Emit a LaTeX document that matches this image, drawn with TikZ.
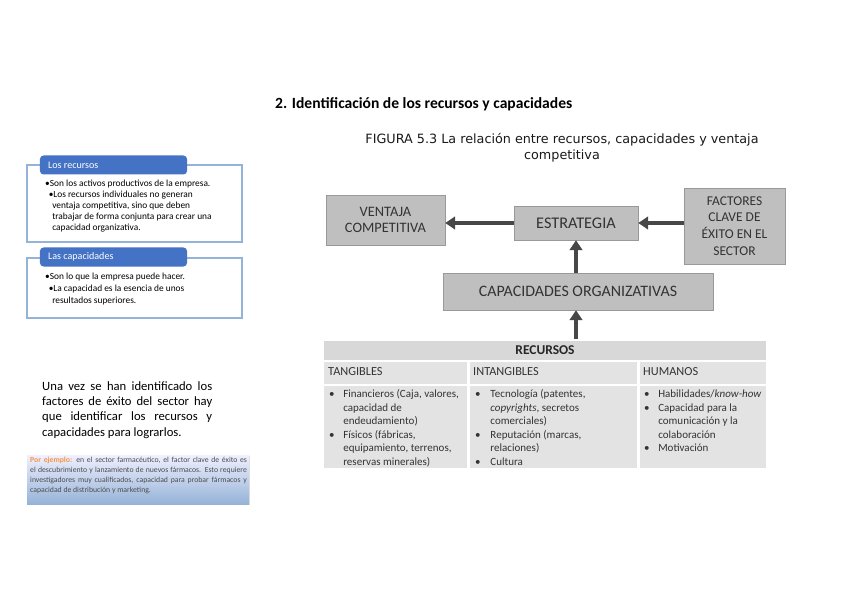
\documentclass[tikz,border=0pt]{standalone}
\usepackage{fontspec}
\setmainfont{Carlito}
\newfontfamily\figfont{DejaVu Sans}
\usetikzlibrary{arrows.meta,positioning,calc,shadows}
\hyphenpenalty=10000
\exhyphenpenalty=10000
\definecolor{boxgray}{HTML}{BFBFBF}
\definecolor{tabgray}{HTML}{E3E3E3}
\definecolor{tabhead}{HTML}{D8D8D8}
\definecolor{darktext}{HTML}{333333}
\definecolor{headblue}{HTML}{4472C4}
\definecolor{lineblue}{HTML}{95B3D7}
\definecolor{exorange}{HTML}{F79646}
\tikzset{
  grayblock/.style={draw=black!40, fill=boxgray, align=center, text=darktext, inner sep=2pt},
  tabcell/.style={draw=white, line width=1pt, fill=tabgray, inner sep=0pt},
  flowarrow/.style={-{Triangle[length=3mm, width=3.8mm]}, line width=1.1mm, draw=black!72},
  bluehead/.style={fill=headblue, rounded corners=3pt, inner sep=0pt, minimum width=4.41cm, minimum height=0.57cm},
  listframe/.style={draw=lineblue, line width=1pt},
}

\begin{document}
\begin{tikzpicture}[x=0.03cm, y=-0.03cm]
    \useasboundingbox (0,0) rectangle (848,599);
    % titles
    \node[anchor=west, font=\fontsize{13.3}{15}\selectfont\bfseries] (title) at (271,104) {2. Identificación de los recursos y capacidades};
    \node[align=center, font=\figfont\fontsize{10.9}{13.5}\selectfont, text=black!90] (figtitle) at (562,148) {FIGURA 5.3 La relación entre recursos, capacidades y ventaja\\competitiva};

    % left column
    \draw[listframe] (27,165) rectangle (242,242);
    \node[bluehead] (hrec) at (113.5,165) {};
    \node[anchor=west, text=white, font=\fontsize{8.6}{9}\selectfont] at (44,165) {Los recursos};
    \node[anchor=north west, align=left, inner sep=0pt, font=\fontsize{8}{9.4}\selectfont] (trec) at (45,180) {%
      •Son los activos productivos de la empresa.\\
      \hspace{3pt}•Los recursos individuales no generan\\
      \hspace{6pt}ventaja competitiva, sino que deben\\
      \hspace{6pt}trabajar de forma conjunta para crear una\\
      \hspace{6pt}capacidad organizativa.};

    \draw[listframe] (27,258) rectangle (242,318);
    \node[bluehead] (hcap) at (113.5,257) {};
    \node[anchor=west, text=white, font=\fontsize{8.6}{9}\selectfont] at (44,257) {Las capacidades};
    \node[anchor=north west, align=left, inner sep=0pt, font=\fontsize{8}{10}\selectfont] (tcap) at (45,273) {%
      •Son lo que la empresa puede hacer.\\
      \hspace{3pt}•La capacidad es la esencia de unos\\
      \hspace{6pt}resultados superiores.};

    \node[anchor=north west, text width=5.1cm, align=justify, inner sep=0pt, font=\fontsize{10.8}{13.1}\selectfont] (para) at (42,381) {Una vez se han identificado los factores de éxito del sector hay que identificar los recursos y capacidades para lograrlos.};

    \fill[top color=blue!6, bottom color=lineblue, drop shadow={opacity=0.25, shadow xshift=0.5pt, shadow yshift=-1pt}] (27,455) rectangle (249,504);
    \node[anchor=north west, text width=6.5cm, align=justify, inner sep=0pt, text=black!70, font=\fontsize{6.6}{8.5}\selectfont] (ejemplo) at (30,457) {\textcolor{exorange}{\bfseries Por ejemplo:} en el sector farmacéutico, el factor clave de éxito es el descubrimiento y lanzamiento de nuevos fármacos. Esto requiere investigadores muy cualificados, capacidad para probar fármacos y capacidad de distribución y marketing.};

    % figure
    \node[grayblock, minimum width=3.57cm, minimum height=1.5cm, font=\fontsize{12.3}{14}\selectfont] (ventaja) at (385.5,220) {VENTAJA\\COMPETITIVA};
    \node[grayblock, minimum width=3.72cm, minimum height=1.02cm, font=\fontsize{13.9}{15}\selectfont] (estrategia) at (576,223) {ESTRATEGIA};
    \node[grayblock, minimum width=3.03cm, minimum height=2.28cm, font=\fontsize{11.5}{14.3}\selectfont] (factores) at (734.5,226) {FACTORES\\CLAVE DE\\ÉXITO EN EL\\SECTOR};
    \node[grayblock, minimum width=8.1cm, minimum height=1.11cm, font=\fontsize{13.6}{15}\selectfont] (capacidades) at (578,291.5) {CAPACIDADES ORGANIZATIVAS};

    \node[tabcell, fill=tabhead, minimum width=13.32cm, minimum height=0.63cm, font=\fontsize{11.5}{13}\selectfont\bfseries, text=black!85] (recursos) at (545,350.5) {RECURSOS};
    \node[tabcell, minimum width=4.35cm, minimum height=0.69cm] (tang) at (395.5,373) {};
    \node[tabcell, minimum width=5.07cm, minimum height=0.69cm] (intang) at (553.5,373) {};
    \node[tabcell, minimum width=3.84cm, minimum height=0.69cm] (hum) at (703,373) {};
    \node[tabcell, minimum width=4.35cm, minimum height=2.52cm] (tangc) at (395.5,427) {};
    \node[tabcell, minimum width=5.07cm, minimum height=2.52cm] (intangc) at (553.5,427) {};
    \node[tabcell, minimum width=3.84cm, minimum height=2.52cm] (humc) at (703,427) {};

    \begin{scope}[every node/.style={anchor=west, inner sep=0pt, text=darktext, font=\fontsize{10.5}{12}\selectfont}]
      \node at (328,372) {TANGIBLES};
      \node at (473,372) {INTANGIBLES};
      \node at (643,372) {HUMANOS};
    \end{scope}
    \begin{scope}[every node/.style={anchor=north west, inner sep=0pt, align=left, text=darktext, font=\fontsize{9.4}{11.5}\selectfont}]
      \node at (329,388) {%
        \begin{tabular}{@{}p{12pt}@{}l@{}}
        • & Financieros (Caja, valores,\\ & capacidad de\\ & endeudamiento)\\
        • & Físicos (fábricas,\\ & equipamiento, terrenos,\\ & reservas minerales)
        \end{tabular}};
      \node at (475,388) {%
        \begin{tabular}{@{}p{13pt}@{}l@{}}
        • & Tecnología (patentes,\\ & \textit{copyrights}, secretos\\ & comerciales)\\
        • & Reputación (marcas,\\ & relaciones)\\
        • & Cultura
        \end{tabular}};
      \node at (644,388) {%
        \begin{tabular}{@{}p{12pt}@{}l@{}}
        • & Habilidades/\textit{know-how}\\
        • & Capacidad para la\\ & comunicación y la\\ & colaboración\\
        • & Motivación
        \end{tabular}};
    \end{scope}

    % connectors
    \draw[flowarrow] (estrategia.west) -- (ventaja.east |- estrategia.west);
    \draw[flowarrow] (factores.west |- estrategia) -- (estrategia);
    \draw[flowarrow] (capacidades.north -| estrategia.south) -- (estrategia.south);
    \draw[flowarrow] (recursos.north -| estrategia.south) -- (capacidades.south -| estrategia.south);
\end{tikzpicture}
\end{document}
